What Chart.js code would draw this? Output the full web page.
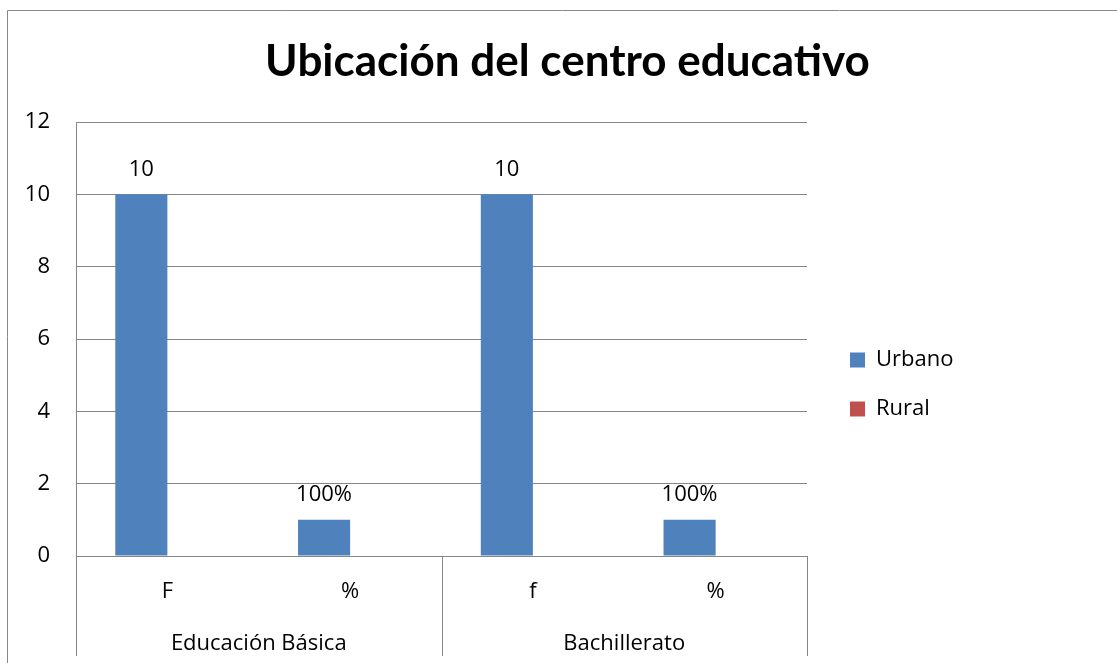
<!DOCTYPE html>
<html><head><meta charset="utf-8">
<script src="https://cdn.jsdelivr.net/npm/chart.js@4/dist/chart.umd.min.js"></script>
<style>html,body{margin:0;padding:0;background:#fff;} canvas{display:block;}</style>
</head><body>
<canvas id="c" width="1117" height="663"></canvas>
<script>
const chartTitle = 'Ubicación del centro educativo';
const categories = ['F', '%', 'f', '%'];
const groups = ['Educación Básica', 'Bachillerato'];
const groupSizes = [2, 2];
const seriesNames = ['Urbano', 'Rural'];
const urbano = [10, 1, 10, 1];
const rural = [0, 0, 0, 0];
const urbanoLabels = ['10', '100%', '10', '100%'];
const ruralLabels = [null, null, null, null];
const yMin = 0, yMax = 12, yStep = 2;

const FONT = '"Open Sans", Lato, sans-serif';
const TITLE_FONT = 'Lato, "Open Sans", sans-serif';
const GRID = '#868686';
const COLORS = ['#4F81BD', '#C0504D'];

// force legend width so the plot area ends where the reference's does
const LegendEl = (Chart.Legend || Chart.registry.plugins.get('legend'))._element;
const origFit = LegendEl.prototype.fit;
LegendEl.prototype.fit = function () {
  origFit.call(this);
  if (!this.isHorizontal()) this.width = 294;
};

const framePlugin = {
  id: 'frame',
  beforeDraw(chart) {
    const ctx = chart.ctx;
    ctx.save();
    ctx.strokeStyle = '#898989';
    ctx.lineWidth = 1;
    ctx.beginPath();
    ctx.moveTo(7.5, 663);
    ctx.lineTo(7.5, 10.5);
    ctx.lineTo(1117, 10.5);
    ctx.stroke();
    ctx.restore();
  }
};

const labelPlugin = {
  id: 'barLabels',
  afterDatasetsDraw(chart) {
    const ctx = chart.ctx;
    const allLabels = [urbanoLabels, ruralLabels];
    ctx.save();
    ctx.font = '22px ' + FONT;
    ctx.fillStyle = '#000';
    ctx.textAlign = 'center';
    ctx.textBaseline = 'middle';
    chart.data.datasets.forEach((ds, di) => {
      const meta = chart.getDatasetMeta(di);
      meta.data.forEach((bar, i) => {
        const t = allLabels[di][i];
        if (t) ctx.fillText(t, bar.x, bar.y - 25);
      });
    });
    ctx.restore();
  }
};

const groupAxisPlugin = {
  id: 'groupAxis',
  afterDraw(chart) {
    const x = chart.scales.x;
    const ctx = chart.ctx;
    const top = x.top, bottom = x.top + 100;
    const bounds = [x.left];
    let idx = 0;
    groupSizes.forEach((n, gi) => {
      idx += n;
      if (gi < groupSizes.length - 1) {
        bounds.push((x.getPixelForValue(idx - 1) + x.getPixelForValue(idx)) / 2);
      }
    });
    bounds.push(x.right);
    ctx.save();
    ctx.strokeStyle = GRID;
    ctx.lineWidth = 1;
    bounds.forEach(b => {
      const bx = Math.round(b) + 0.5;
      ctx.beginPath();
      ctx.moveTo(bx, top);
      ctx.lineTo(bx, bottom);
      ctx.stroke();
    });
    ctx.font = '22px ' + FONT;
    ctx.fillStyle = '#000';
    ctx.textAlign = 'center';
    ctx.textBaseline = 'alphabetic';
    groups.forEach((g, gi) => {
      ctx.fillText(g, (bounds[gi] + bounds[gi + 1]) / 2, 650);
    });
    ctx.restore();
  }
};

new Chart(document.getElementById('c'), {
  type: 'bar',
  data: {
    labels: categories,
    datasets: [
      { label: seriesNames[0], data: urbano, backgroundColor: COLORS[0], borderWidth: 0, yAxisID: 'y', categoryPercentage: 0.57, barPercentage: 1 },
      { label: seriesNames[1], data: rural, backgroundColor: COLORS[1], borderWidth: 0, yAxisID: 'y', categoryPercentage: 0.57, barPercentage: 1 }
    ]
  },
  options: {
    responsive: false,
    animation: false,
    devicePixelRatio: 1,
    layout: { padding: { left: 18, top: 0, right: 0, bottom: 0 } },
    scales: {
      x: {
        grid: { display: false, drawTicks: false },
        border: { display: false },
        ticks: { color: '#000', font: { family: FONT, size: 22 }, padding: 23, maxRotation: 0, autoSkip: false },
        afterFit(s) { s.height = 107; }
      },
      y: {
        min: yMin, max: yMax,
        ticks: { stepSize: yStep, color: '#000', font: { family: FONT, size: 22 }, padding: 26 },
        grid: { color: GRID, drawTicks: false, lineWidth: 1 },
        border: { display: true, color: GRID },
        afterFit(s) { s.width = 58; }
      },
      y2: {
        type: 'linear', position: 'right', display: true,
        grid: { display: false, drawTicks: false },
        ticks: { display: false },
        border: { display: false },
        afterFit(s) { s.width = 16; }
      }
    },
    plugins: {
      title: {
        display: true, text: chartTitle, color: '#000',
        font: { family: TITLE_FONT, size: 44, weight: 'bold', lineHeight: 1.2 },
        padding: { top: 35, bottom: 34.2 }
      },
      legend: {
        position: 'right', fullSize: false, align: 'start',
        labels: { boxWidth: 15, boxHeight: 15, padding: 27, color: '#000', font: { family: FONT, size: 22 } },
        title: { display: true, text: ' ', font: { size: 10, lineHeight: 1.2 }, padding: { top: 188, bottom: 0 } }
      },
      tooltip: { enabled: false }
    }
  },
  plugins: [framePlugin, labelPlugin, groupAxisPlugin]
});
</script>
</body></html>
